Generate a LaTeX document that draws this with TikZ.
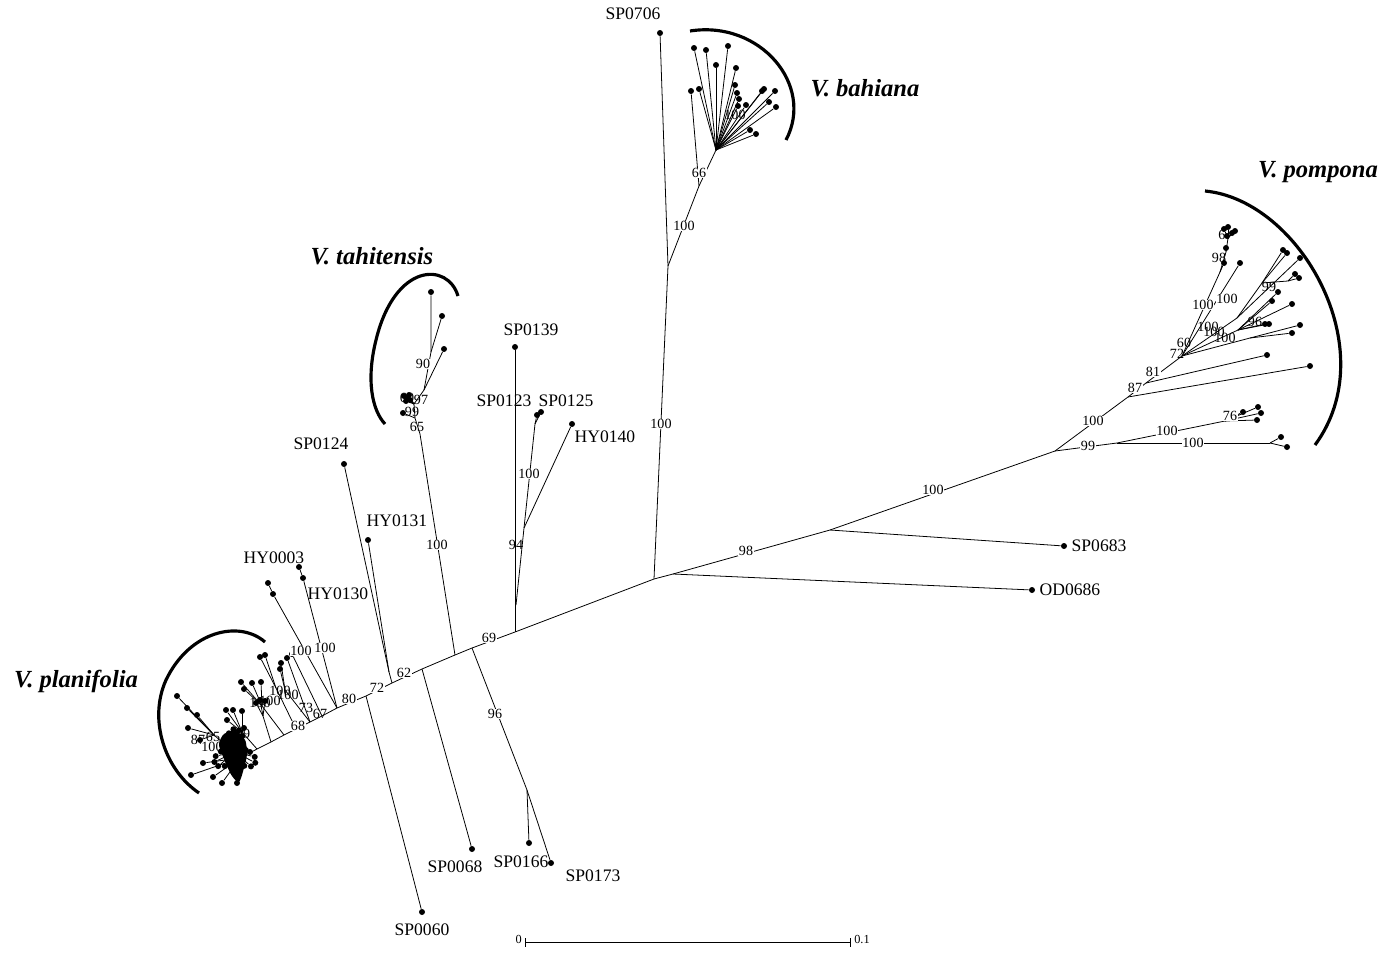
\documentclass[tikz,border=0pt]{standalone}
\usepackage{fontspec}
\setmainfont{Liberation Serif}
\usetikzlibrary{positioning}
\tikzset{
    treetip/.style={circle, fill, inner sep=0pt, minimum size=1.2mm},
    bootlab/.style={fill=white, inner sep=0.4pt, font=\fontsize{8}{8}\selectfont},
    bootlabc/.style={inner sep=0pt, font=\fontsize{8}{8}\selectfont},
    taxlab/.style={inner sep=0.5pt, font=\fontsize{10}{10}\selectfont},
    cladelab/.style={font=\fontsize{14}{14}\selectfont\bfseries\itshape},
    cladearc/.style={line width=1.8pt}
}

\begin{document}
\begin{tikzpicture}[x=0.2mm, y=-0.2mm, line width=0.45pt]
\useasboundingbox (0,0) rectangle (1397,955);

% backbone
\coordinate (n67) at (337,708);
\coordinate (n80) at (366,696);
\coordinate (n72) at (392,683);
\coordinate (n62) at (422,669);
\coordinate (t100) at (455,655);
\coordinate (s96) at (472,648);
\coordinate (c69) at (515,632);
\coordinate (ctr) at (654,579);
\coordinate (c98) at (673,574);
\coordinate (c683) at (830,530);
\coordinate (pomp) at (1055,451);
\draw (n67) -- (n80) -- (n72) -- (n62) -- (t100) -- (s96) -- (c69) -- (ctr) -- (c98) -- (c683) -- (pomp);

% single taxa
\node[treetip] (sp0706) at (660,33) {};
\node[treetip] (sp0139) at (515,347) {};
\node[treetip] (sp0124) at (344,464) {};
\node[treetip] (hy0131) at (368,540) {};
\node[treetip] (sp0060) at (422,912) {};
\node[treetip] (sp0068) at (472,849) {};
\node[treetip] (sp0166) at (529,843) {};
\node[treetip] (sp0173) at (551,863) {};
\node[treetip] (sp0683) at (1064,546) {};
\node[treetip] (od0686) at (1032,590) {};
\node[treetip] (hy0140) at (572,424) {};
\node[treetip] (sp0123) at (537,415) {};
\node[treetip] (sp0125) at (541,412) {};

\coordinate (n124) at (389,672);
\draw (sp0124) -- (n124) -- (n72);
\draw (hy0131) -- (n124);
\draw (n80) -- (sp0060);
\draw (n62) -- (sp0068);
\coordinate (n166) at (527,790);
\draw (s96) -- (n166) -- (sp0166);
\draw (n166) -- (sp0173);
\draw (c98) -- (od0686);
\draw (c683) -- (sp0683);
\draw (sp0139) -- (c69);
\coordinate (n94) at (524,528);
\coordinate (j94) at (516,605);
\coordinate (n100c) at (535,424);
\draw (j94) -- (n94) -- (hy0140);
\draw (n94) -- (n100c) -- (sp0123);
\draw (n100c) -- (sp0125);

% V. bahiana
\coordinate (nb) at (668,266);
\coordinate (n66) at (699,186);
\coordinate (bfan) at (716,150);
\node[treetip] (bt0) at (691,91) {};
\draw (sp0706) -- (nb) -- (ctr);
\draw (nb) -- (n66) -- (bt0);
\draw (n66) -- (bfan);
\foreach \px/\py [count=\i] in {694/48,706/50,728/46,716/65,736/68,699/89,735/85,
    737/93,739/99,738/106,746/105,764/89,762/91,775/91,769/102,776/107,750/130,756/134}{
    \node[treetip] (bt\i) at (\px,\py) {};
    \draw (bfan) -- (bt\i);
}
\draw[cladearc] (690,31) .. controls (760,20) and (815,85) .. (786,140);

% V. tahitensis
\coordinate (ta65) at (420,434);
\coordinate (ta99) at (415,418);
\coordinate (tclu) at (414,404);
\coordinate (ta97) at (424,390);
\coordinate (ta90) at (431,352);
\node[treetip] (tt1) at (431,292) {};
\node[treetip] (tt2) at (442,316) {};
\node[treetip] (tt3) at (444,349) {};
\node[treetip] (tt4) at (403,413) {};
\draw (t100) -- (ta65) -- (ta99) -- (tt4);
\draw (ta99) -- (tclu) -- (ta97) -- (ta90) -- (tt1);
\draw (ta90) -- (tt2);
\draw (ta97) -- (tt3);
\foreach \px/\py [count=\i] in {404/396,407/399,409/395,406/401,410/400}{
    \node[treetip] (tc\i) at (\px,\py) {};
    \draw (tclu) -- (tc\i);
}
\draw[cladearc] (458,296) .. controls (448,262) and (395,262) .. (376,340)
    .. controls (366,380) and (372,410) .. (385,424);

% V. pompona
\coordinate (n87) at (1128,397);
\coordinate (n81) at (1146,383);
\coordinate (pfan) at (1182,356);
\coordinate (n99p) at (1117,443);
\coordinate (n76) at (1225,421);
\coordinate (n100d) at (1270,443);
\node[treetip] (pp1) at (1310,366) {};
\node[treetip] (pp2) at (1267,355) {};
\draw (pomp) -- (n87) -- (n81) -- (pfan);
\draw (n87) -- (pp1);
\draw (n81) -- (pp2);
\draw (pomp) -- (n99p) -- (n76);
\draw (n99p) -- (n100d);
\foreach \px/\py [count=\i] in {1243/412,1258/407,1261/413,1257/420}{
    \node[treetip] (pq\i) at (\px,\py) {};
    \draw (n76) -- (pq\i);
}
\foreach \px/\py [count=\i] in {1281/437,1287/447}{
    \node[treetip] (pr\i) at (\px,\py) {};
    \draw (n100d) -- (pr\i);
}
\coordinate (p98) at (1220,272);
\coordinate (p98b) at (1226,252);
\coordinate (pclu) at (1228,238);
\node[treetip] (pf1) at (1224,263) {};
\node[treetip] (pf2) at (1226,248) {};
\node[treetip] (pf3) at (1240,263) {};
\draw (pfan) -- (p98) -- (pf1);
\draw (p98) -- (p98b) -- (pf2);
\draw (p98b) -- (pclu);
\foreach \px/\py [count=\i] in {1224/229,1228/227,1232/233,1227/236,1235/231}{
    \node[treetip] (pc\i) at (\px,\py) {};
    \draw (pclu) -- (pc\i);
}
\draw (pfan) -- (pf3);
\coordinate (p99) at (1237,318);
\coordinate (p99b) at (1262,283);
\coordinate (p99c) at (1288,281);
\node[treetip] (pg1) at (1283,250) {};
\node[treetip] (pg2) at (1287,253) {};
\node[treetip] (pg3) at (1300,258) {};
\node[treetip] (pg4) at (1295,274) {};
\node[treetip] (pg5) at (1299,278) {};
\draw (pfan) -- (p99) -- (pg3);
\draw (p99) -- (p99b) -- (pg1);
\draw (p99b) -- (pg2);
\draw (p99b) -- (p99c) -- (pg4);
\draw (p99c) -- (pg5);
\coordinate (p96) at (1238,330);
\draw (pfan) -- (p96);
\foreach \px/\py [count=\i] in {1278/292,1272/301,1292/304,1265/324,1269/324}{
    \node[treetip] (ph\i) at (\px,\py) {};
    \draw (p96) -- (ph\i);
}
\coordinate (pe) at (1250,338);
\node[treetip] (pk1) at (1300,325) {};
\node[treetip] (pk2) at (1292,333) {};
\draw (pfan) -- (pe) -- (pk1);
\draw (pe) -- (pk2);
\draw[cladearc] (1205,191) .. controls (1300,200) and (1385,350) .. (1315,445);

% V. planifolia and HY clades
\node[treetip] (hy3a) at (268,583) {};
\node[treetip] (hy3b) at (273,594) {};
\node[treetip] (hy130a) at (299,567) {};
\node[treetip] (hy130b) at (303,578) {};
\draw (hy3a) -- (hy3b) -- (n67);
\draw (hy130a) -- (hy130b) -- (n67);
\coordinate (ps0) at (322,716);
\coordinate (ps1) at (310,722);
\coordinate (ps2) at (296,729);
\coordinate (ps3) at (284,735);
\coordinate (ps4) at (271,742);
\coordinate (ps5) at (257,749);
\coordinate (pbase) at (240,758);
\draw (n67) -- (ps0) -- (ps1) -- (ps2) -- (ps3) -- (ps4) -- (ps5) -- (pbase);
\node[treetip] (pa1) at (292,654) {};
\node[treetip] (pa2) at (287,658) {};
\draw (ps0) -- (pa1);
\draw (ps1) -- (pa2);
\coordinate (pna) at (285,690);
\coordinate (pnb) at (276,688);
\coordinate (pnc) at (262,706);
\coordinate (pnd) at (263,716);
\coordinate (pne) at (242,732);
\coordinate (pnf) at (214,735);
\draw (ps1) -- (pna);
\draw (ps2) -- (pnb);
\draw (ps3) -- (pnc);
\draw (ps4) -- (pnd);
\draw (ps5) -- (pne);
\draw (pbase) -- (pnf);
\foreach \px/\py [count=\i] in {281/663,280/669}{
    \node[treetip] (pla\i) at (\px,\py) {};
    \draw (pna) -- (pla\i);
}
\foreach \px/\py [count=\i] in {260/657,265/655}{
    \node[treetip] (plb\i) at (\px,\py) {};
    \draw (pnb) -- (plb\i);
}
\foreach \px/\py [count=\i] in {241/682,244/689,252/683,261/682}{
    \node[treetip] (plc\i) at (\px,\py) {};
    \draw (pnc) -- (plc\i);
}
\foreach \px/\py [count=\i] in {256/703,260/700,265/701}{
    \node[treetip] (pld\i) at (\px,\py) {};
    \draw (pnd) -- (pld\i);
}
\foreach \px/\py [count=\i] in {226/710,233/710,242/711,227/720,244/728}{
    \node[treetip] (ple\i) at (\px,\py) {};
    \draw (pne) -- (ple\i);
}
\foreach \px/\py [count=\i] in {177/696,187/708,197/715,188/728,200/740}{
    \node[treetip] (plf\i) at (\px,\py) {};
    \draw (pnf) -- (plf\i);
}
\foreach \px/\py [count=\i] in {203/763,191/775,213/777,222/783,237/783}{
    \node[treetip] (plg\i) at (\px,\py) {};
    \draw (pbase) -- (plg\i);
}
\coordinate (pblob) at (235,752);
\fill plot[smooth cycle] coordinates {(224,734) (236,731) (245,740) (247,754)
    (244,768) (239,782) (232,776) (227,766) (222,754) (219,744)};
\foreach \a [count=\i] in {0,14,...,350}{
    \path (pblob) ++(\a:{15+8*sin(3*\a)}) node[treetip] (pb\i) {};
    \draw (pblob) -- (pb\i);
}
\draw[cladearc] (265,642) .. controls (240,620) and (190,630) .. (166,680)
    .. controls (148,720) and (165,770) .. (199,793);

% bootstrap values
\node[bootlab] (b62) at (404,673) {62};
\node[bootlab] (b72) at (377,688) {72};
\node[bootlab] (b80) at (349,699) {80};
\node[bootlab] (b69) at (489,638) {69};
\node[bootlab] (b98) at (746,551) {98};
\node[bootlab] (b100a) at (933,490) {100};
\node[bootlab] (b100b) at (661,424) {100};
\node[bootlab] (b100c) at (684,226) {100};
\node[bootlab] (b66) at (699,173) {66};
\node[bootlabc] (b100d) at (735,115) {100};
\node[bootlab] (b100e) at (437,545) {100};
\node[bootlab] (b90) at (423,364) {90};
\node[bootlabc] (b97) at (421,400) {97};
\node[bootlabc] (b99t) at (412,412) {99};
\node[bootlabc] (b65) at (417,427) {65};
\node[bootlabc] (b60t) at (407,398) {60};
\node[bootlab] (b96) at (495,714) {96};
\node[bootlabc] (b94) at (516,545) {94};
\node[bootlab] (b100f) at (529,474) {100};
\node[bootlab] (b100g) at (1093,421) {100};
\node[bootlab] (b99p) at (1088,446) {99};
\node[bootlab] (b100h) at (1167,431) {100};
\node[bootlab] (b76) at (1230,416) {76};
\node[bootlab] (b100i) at (1193,443) {100};
\node[bootlab] (b87) at (1135,388) {87};
\node[bootlab] (b81) at (1153,372) {81};
\node[bootlabc] (b72p) at (1177,354) {72};
\node[bootlabc] (b60p) at (1184,343) {60};
\node[bootlabc] (b100j) at (1208,327) {100};
\node[bootlabc] (b100k) at (1214,332) {100};
\node[bootlabc] (b100l) at (1225,338) {100};
\node[bootlabc] (b96p) at (1255,322) {96};
\node[bootlabc] (b99q) at (1269,287) {99};
\node[bootlab] (b100m) at (1203,305) {100};
\node[bootlab] (b100n) at (1227,299) {100};
\node[bootlabc] (b98p) at (1219,258) {98};
\node[bootlabc] (b6p) at (1222,235) {6};
\node[bootlab] (b100o) at (301,651) {100};
\node[bootlab] (b100p) at (325,648) {100};
\node[bootlabc] (b73) at (306,708) {73};
\node[bootlabc] (b67) at (320,714) {67};
\node[bootlab] (b68) at (298,726) {68};
\node[bootlabc] (b100q) at (280,691) {100};
\node[bootlabc] (b100r) at (288,695) {100};
\node[bootlabc] (b100s) at (260,703) {100};
\node[bootlabc] (b100t) at (270,701) {100};
\node[bootlabc] (b99l) at (243,734) {99};
\node[bootlabc] (b87l) at (198,740) {87};
\node[bootlabc] (b65l) at (213,737) {65};
\node[bootlabc] (b100u) at (212,747) {100};
\node[bootlabc] (b94l) at (240,746) {94};

% taxon labels
\node[taxlab] (lsp0706) at (633,14) {SP0706};
\node[taxlab] (lsp0139) at (531,330) {SP0139};
\node[taxlab] (lsp0123) at (504,401) {SP0123};
\node[taxlab] (lsp0125) at (566,401) {SP0125};
\node[taxlab] (lhy0140) at (605,437) {HY0140};
\node[taxlab] (lsp0124) at (321,444) {SP0124};
\node[taxlab] (lhy0131) at (397,521) {HY0131};
\node[taxlab] (lhy0003) at (274,558) {HY0003};
\node[taxlab] (lhy0130) at (338,594) {HY0130};
\node[taxlab] (lsp0068) at (455,867) {SP0068};
\node[taxlab] (lsp0166) at (521,862) {SP0166};
\node[taxlab] (lsp0173) at (593,876) {SP0173};
\node[taxlab] (lsp0060) at (422,930) {SP0060};
\node[taxlab, right=0.6mm of sp0683] (lsp0683) {SP0683};
\node[taxlab, right=0.6mm of od0686] (lod0686) {OD0686};

% clade names
\node[cladelab] (lbah) at (865,88) {V. bahiana};
\node[cladelab] (lpom) at (1318,172) {V. pompona};
\node[cladelab] (ltah) at (372,256) {V. tahitensis};
\node[cladelab] (lpla) at (76,681) {V. planifolia};

% scale bar
\coordinate (sb0) at (525,942);
\coordinate (sb1) at (850,942);
\draw (sb0) -- (sb1);
\draw ([yshift=-0.9mm]sb0) -- ([yshift=0.9mm]sb0);
\draw ([yshift=-0.9mm]sb1) -- ([yshift=0.9mm]sb1);
\node[anchor=east, inner sep=0.5pt, font=\fontsize{7}{7}\selectfont] (lsb0) at (523,939) {0};
\node[anchor=west, inner sep=0.5pt, font=\fontsize{7}{7}\selectfont] (lsb1) at (853,939) {0.1};
\end{tikzpicture}
\end{document}
